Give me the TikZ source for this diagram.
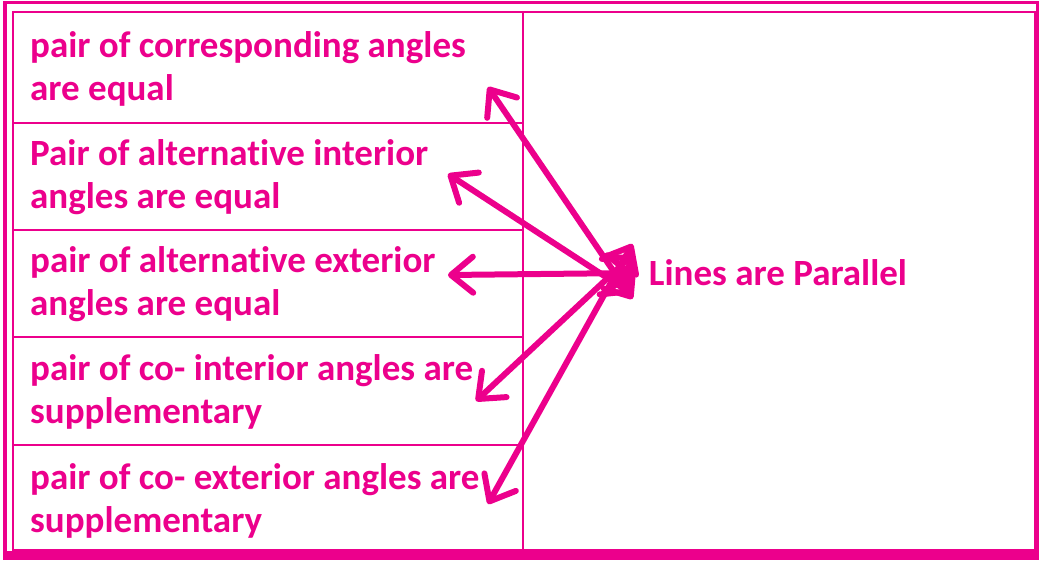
\documentclass[tikz,border=0pt]{standalone}
\usepackage{fontspec}
\setmainfont{Carlito}[Ligatures=NoCommon]
\usepackage{xcolor}
\usetikzlibrary{arrows.meta, positioning}

\definecolor{pinkM}{RGB}{236,0,140}

\begin{document}
\begin{tikzpicture}[x=1pt, y=-1pt, node distance=0pt,
  cell/.style={draw=pinkM, line width=2pt, outer sep=0pt, minimum width=510pt,
               minimum height=107pt},
  txt/.style={anchor=north west, inner sep=0pt, text width=476pt, align=flush left,
              text=pinkM, font=\fontsize{37}{43.5}\selectfont\bfseries},
  barb/.tip={Straight Barb[length=22pt, width=36pt, line cap=round, line join=round]},
  twoway/.style={barb-barb, draw=pinkM, line width=6pt, line cap=round}]

  \useasboundingbox (0,0) rectangle (1039,560);

  % outer frame
  \draw[pinkM, line width=3.5pt] (5,2.5) rectangle (1037.5,555);
  \fill[pinkM] (3,550.5) rectangle (1039,560);

  % left column
  \node[cell, anchor=north west, minimum height=111pt] (c1) at (13,12) {};
  \node[cell, below=of c1] (c2) {};
  \node[cell, below=of c2] (c3) {};
  \node[cell, below=of c3, minimum height=108pt] (c4) {};
  \node[cell, below=of c4, minimum height=105pt] (c5) {};

  \node[txt] (t1) at ([xshift=17pt, yshift=-19pt]c1.north west) {pair of corresponding angles\\are equal};
  \node[txt] (t2) at ([xshift=17pt, yshift=-16pt]c2.north west) {Pair of alternative interior\\angles are equal};
  \node[txt] (t3) at ([xshift=17pt, yshift=-16pt]c3.north west) {pair of alternative exterior\\angles are equal};
  \node[txt] (t4) at ([xshift=17pt, yshift=-17pt]c4.north west) {pair of co- interior angles are\\supplementary};
  \node[txt] (t5) at ([xshift=17pt, yshift=-18pt]c5.north west) {pair of co- exterior angles are\\supplementary};

  % right box
  \node[draw=pinkM, line width=2pt, outer sep=0pt, anchor=north west,
        minimum width=512pt, minimum height=538pt] (rbox) at (c1.north east) {};

  \node[text=pinkM, font=\fontsize{37}{43}\selectfont\bfseries] (par) at (778,273) {Lines are Parallel};

  % arrow ends
  \coordinate (e1) at (488,87);
  \coordinate (e2) at (448,174);
  \coordinate (e3) at (448,275);
  \coordinate (e4) at (476,401);
  \coordinate (e5) at (488,504);
  \coordinate (p1) at ([xshift=-13pt, yshift=-26pt]par.west);
  \coordinate (p2) at ([xshift=-15pt, yshift=-20pt]par.west);
  \coordinate (p3) at ([xshift=-13pt]par.west);
  \coordinate (p4) at ([xshift=-13pt, yshift=18pt]par.west);
  \coordinate (p5) at ([xshift=-13pt, yshift=29pt]par.west);

  \draw[twoway] (e1) -- (p1);
  \draw[twoway] (e2) -- (p2);
  \draw[twoway] (e3) -- (p3);
  \draw[twoway] (e4) -- (p4);
  \draw[twoway] (e5) -- (p5);
\end{tikzpicture}
\end{document}
